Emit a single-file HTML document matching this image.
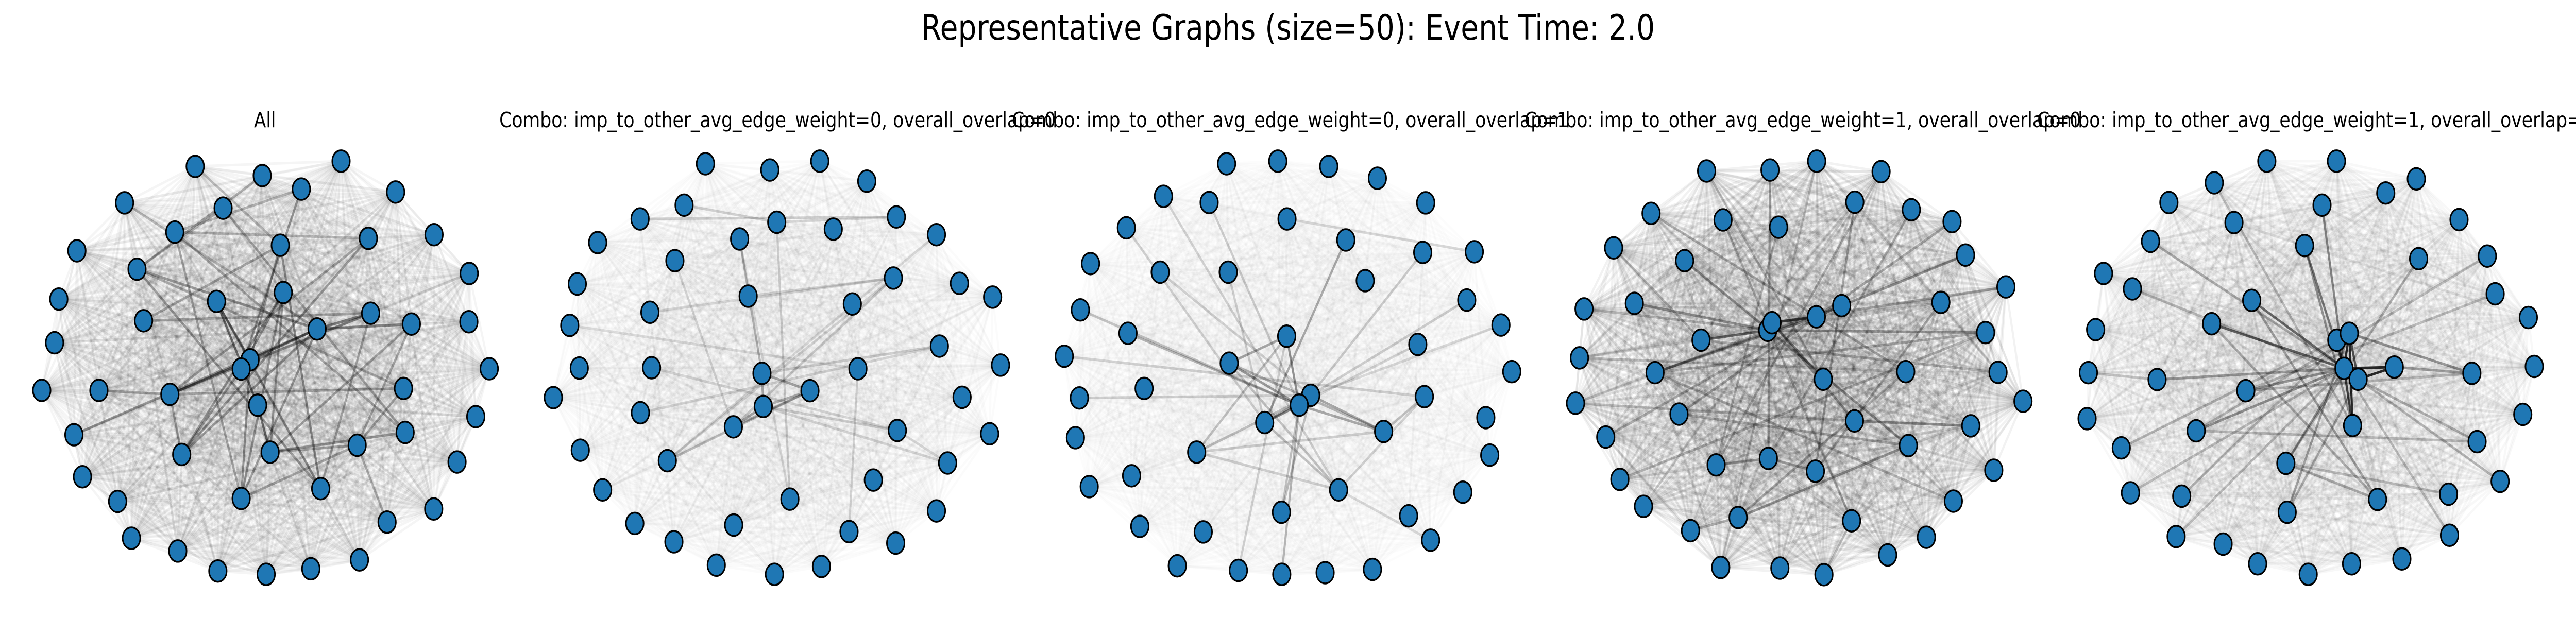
<!DOCTYPE html>
<html><head><meta charset="utf-8"><style>
html,body{margin:0;padding:0;background:#fff;width:100%;height:100%;overflow:hidden;}
svg{display:block;width:100vw;height:100vh;font-family:"DejaVu Sans","Liberation Sans",sans-serif;}
</style></head><body>
<svg id="fig" viewBox="0 0 6000 1200" preserveAspectRatio="none" xmlns="http://www.w3.org/2000/svg">
<rect width="6000" height="1200" fill="#fff"/>
<text x="3000" y="77" font-size="68" text-anchor="middle" fill="#000">Representative Graphs (size=50): Event Time: 2.0</text>
</svg>
<script>
// Panel titles
const panelTitles = ["All",
 "Combo: imp_to_other_avg_edge_weight=0, overall_overlap=0",
 "Combo: imp_to_other_avg_edge_weight=0, overall_overlap=1",
 "Combo: imp_to_other_avg_edge_weight=1, overall_overlap=0",
 "Combo: imp_to_other_avg_edge_weight=1, overall_overlap=1"];
// Faint baseline weight of the complete graph per panel
const baseWeights = [0.04, 0.016, 0.013, 0.05, 0.026];
// Node layout positions (layout units per panel)
const nodesP1 = [[594,193],[798,221],[1038,177],[917,262],[1204,271],[379,304],[679,320],[532,393],[853,433],[1121,412],[1321,401],[234,450],[417,506],[1428,519],[179,597],[862,577],[659,604],[1128,640],[1252,673],[1427,666],[437,663],[965,688],[166,730],[761,782],[734,810],[1489,809],[127,875],[301,875],[517,887],[1228,869],[784,920],[1448,955],[225,1010],[1233,1003],[553,1070],[822,1063],[1087,1042],[1391,1093],[251,1138],[976,1174],[734,1204],[358,1213],[1320,1236],[1178,1276],[400,1325],[541,1364],[663,1425],[810,1435],[946,1418],[1094,1391]];
const nodesP2 = [[579,185],[775,204],[927,177],[1070,238],[514,311],[380,353],[796,363],[1160,347],[968,384],[1282,401],[251,425],[683,414],[486,480],[189,551],[1151,533],[1352,549],[1453,591],[709,588],[1026,612],[410,637],[166,677],[1291,740],[195,807],[415,806],[751,823],[1043,809],[1477,798],[116,897],[897,876],[1360,896],[381,943],[755,924],[664,986],[1163,997],[1444,1007],[198,1057],[463,1089],[1316,1096],[1090,1148],[266,1178],[836,1206],[1282,1242],[364,1280],[665,1285],[1016,1305],[483,1336],[1158,1340],[612,1407],[789,1435],[932,1411]];
const nodesP3 = [[597,185],[753,177],[908,193],[1056,229],[405,284],[544,303],[1203,304],[781,353],[292,380],[960,417],[1194,455],[1351,453],[183,489],[395,515],[602,515],[1019,541],[1328,600],[152,630],[1432,676],[297,701],[780,710],[1179,735],[103,771],[605,792],[1465,818],[346,869],[853,890],[149,898],[1199,894],[818,920],[713,973],[1386,958],[1075,1000],[137,1019],[506,1063],[1398,1072],[308,1135],[179,1168],[938,1178],[1316,1185],[764,1246],[1151,1257],[333,1289],[526,1306],[1218,1331],[447,1409],[633,1423],[765,1435],[897,1430],[1041,1420]];
const nodesP4 = [[490,207],[683,204],[825,177],[1021,209],[321,336],[540,356],[709,378],[941,302],[1113,325],[1237,361],[207,441],[423,480],[1278,463],[117,627],[270,610],[1401,560],[901,617],[1203,607],[824,651],[676,692],[689,669],[473,722],[1339,699],[103,776],[333,821],[845,841],[1096,818],[1377,820],[91,914],[1453,908],[406,947],[940,968],[1294,983],[183,1017],[1104,1043],[519,1102],[678,1082],[821,1121],[1364,1118],[226,1146],[298,1228],[1241,1212],[586,1262],[931,1272],[441,1302],[1159,1322],[1041,1376],[533,1414],[713,1416],[847,1436]];
const nodesP5 = [[627,177],[839,177],[1082,231],[467,243],[989,274],[329,303],[795,311],[527,364],[1212,355],[273,421],[742,434],[1089,474],[1298,466],[130,519],[218,566],[1322,581],[581,601],[1423,653],[106,690],[459,672],[840,722],[878,701],[84,821],[1441,802],[293,842],[862,808],[905,841],[1015,804],[1251,823],[563,876],[80,961],[1406,948],[888,982],[412,998],[184,1050],[1267,1031],[685,1097],[1337,1152],[212,1187],[368,1197],[964,1207],[1180,1191],[689,1246],[351,1320],[1183,1316],[494,1343],[599,1403],[885,1403],[1038,1388],[753,1435]];
// Strong edges [source, target, weight]
const edgesP1 = [[23,21,.5],[23,28,.45],[23,16,.4],[16,30,.5],[30,35,.5],[24,15,.35],[21,17,.4],[21,18,.35],[21,40,.3],[15,35,.3],[8,39,.35],[16,39,.3],[12,21,.3],[12,39,.3],[28,34,.3],[28,29,.25],[34,21,.3],[34,15,.3],[3,24,.3],[6,33,.25],[7,33,.25],[7,40,.25],[9,34,.3],[9,28,.25],[1,12,.25],[17,28,.3],[17,20,.25],[18,35,.25],[29,36,.25],[33,35,.3],[36,40,.25],[40,15,.3],[32,21,.3],[27,28,.25],[0,8,.2],[5,21,.2],[3,7,.2],[6,12,.2],[8,20,.25],[9,7,.2],[18,36,.25],[29,12,.2],[39,17,.25],[24,34,.3],[23,8,.3],[35,36,.25],[43,36,.2],[40,23,.3]];
const edgesP2 = [[24,31,.3],[24,28,.3],[31,28,.25],[31,32,.3],[32,28,.2],[36,28,.2],[11,24,.25],[5,7,.15],[4,6,.15],[6,7,.12],[14,32,.15],[17,14,.12],[19,14,.1],[24,21,.15],[30,21,.12],[31,33,.15],[36,14,.12],[6,40,.15],[31,37,.12],[23,33,.12],[20,25,.1],[12,32,.12],[9,36,.1],[25,44,.12],[11,40,.1],[33,37,.12]];
const edgesP3 = [[23,29,.35],[20,29,.4],[20,23,.3],[29,30,.35],[30,26,.3],[26,32,.3],[29,32,.3],[23,32,.25],[9,30,.3],[19,29,.25],[17,29,.2],[34,26,.2],[34,20,.2],[38,30,.2],[38,23,.2],[29,47,.25],[29,40,.2],[32,28,.2],[32,34,.15],[26,10,.15],[26,16,.15],[22,28,.15],[14,30,.15],[7,11,.12],[4,38,.15],[13,26,.15],[5,29,.15],[8,30,.15],[27,26,.15],[34,38,.15],[40,26,.2],[46,20,.15],[38,28,.15],[30,21,.12],[26,18,.12],[38,44,.12]];
const edgesP4 = [[20,18,.6],[18,16,.5],[21,19,.45],[20,25,.4],[16,12,.3],[19,22,.3],[24,18,.3],[14,19,.3],[11,34,.3],[20,31,.3],[42,34,.3],[35,36,.25],[36,37,.25],[44,42,.25],[31,32,.3],[24,16,.25],[1,36,.25],[6,35,.2],[7,37,.25],[5,43,.2],[26,42,.2],[0,25,.2],[10,21,.2],[4,26,.2],[22,24,.2],[13,19,.2],[30,34,.2],[27,21,.2],[43,49,.2],[17,37,.2],[8,36,.2],[33,18,.2],[39,22,.2],[3,35,.2],[9,30,.2],[28,31,.15],[41,24,.2],[15,20,.2],[23,26,.15],[2,47,.15]];
const edgesP5 = [[25,26,.8],[25,27,.8],[26,27,.8],[21,25,.8],[21,32,.8],[20,25,.7],[21,26,.6],[25,32,.7],[19,25,.55],[16,25,.5],[10,25,.45],[6,25,.4],[10,32,.35],[29,25,.35],[33,25,.35],[36,25,.35],[42,21,.3],[24,25,.3],[9,25,.25],[16,40,.3],[21,28,.35],[27,28,.3],[26,35,.25],[19,40,.25],[3,32,.2],[11,36,.25],[12,33,.2],[15,29,.2],[36,40,.25],[33,35,.2],[14,26,.2],[39,21,.2],[43,25,.2],[34,21,.2],[38,25,.2],[37,26,.2],[44,25,.2],[41,36,.2],[29,28,.2],[42,26,.25],[24,22,.15]];

const panelNodes = [nodesP1,nodesP2,nodesP3,nodesP4,nodesP5];
const panelEdges = [edgesP1,edgesP2,edgesP3,edgesP4,edgesP5];
const NS = "http://www.w3.org/2000/svg";
const svg = document.getElementById('fig');
const SX = 1200/1568, SY = 1000/1568;
const panelX0 = [0,1200,2400,3600,4800];
const titleCenters = [617,1811,3005,4199,5393];
function px(p, v){ return panelX0[p] + v*SX; }
function py(v){ return 200 + v*SY; }
function mk(tag, attrs){ const e=document.createElementNS(NS,tag); for(const k in attrs) e.setAttribute(k,attrs[k]); return e; }

for(let p=0;p<5;p++){
  const g = mk('g',{});
  
  
  svg.appendChild(g);
  const t = mk('text',{x:titleCenters[p], y:247, 'font-size':41, 'text-anchor':'middle', fill:'#000'});
  if(p>0){ t.setAttribute('textLength',1296); t.setAttribute('lengthAdjust','spacingAndGlyphs'); }
  t.textContent = panelTitles[p];
  
  
  const nodes = panelNodes[p];
  const eg = mk('g',{stroke:'#000','stroke-width':5,'stroke-linecap':'round',fill:'none'});
  
  
  g.appendChild(eg);
  for(let i=0;i<nodes.length;i++) for(let j=i+1;j<nodes.length;j++){
    const l = mk('line',{x1:px(p,nodes[i][0]),y1:py(nodes[i][1]),x2:px(p,nodes[j][0]),y2:py(nodes[j][1]),'stroke-opacity':baseWeights[p]});
    
    
    eg.appendChild(l);
  }
  panelEdges[p].forEach(e=>{
    const a=nodes[e[0]], b=nodes[e[1]];
    const l = mk('line',{x1:px(p,a[0]),y1:py(a[1]),x2:px(p,b[0]),y2:py(b[1]),'stroke-opacity':e[2]});
    
    
    eg.appendChild(l);
  });
  nodes.forEach((n,i)=>{
    const c = mk('ellipse',{cx:px(p,n[0]),cy:py(n[1]),rx:20.5,ry:21,fill:'#1f77b4',stroke:'#000','stroke-width':3.5});
    
    
    g.appendChild(c);
  });
  g.appendChild(t);
}
</script>
</body></html>
